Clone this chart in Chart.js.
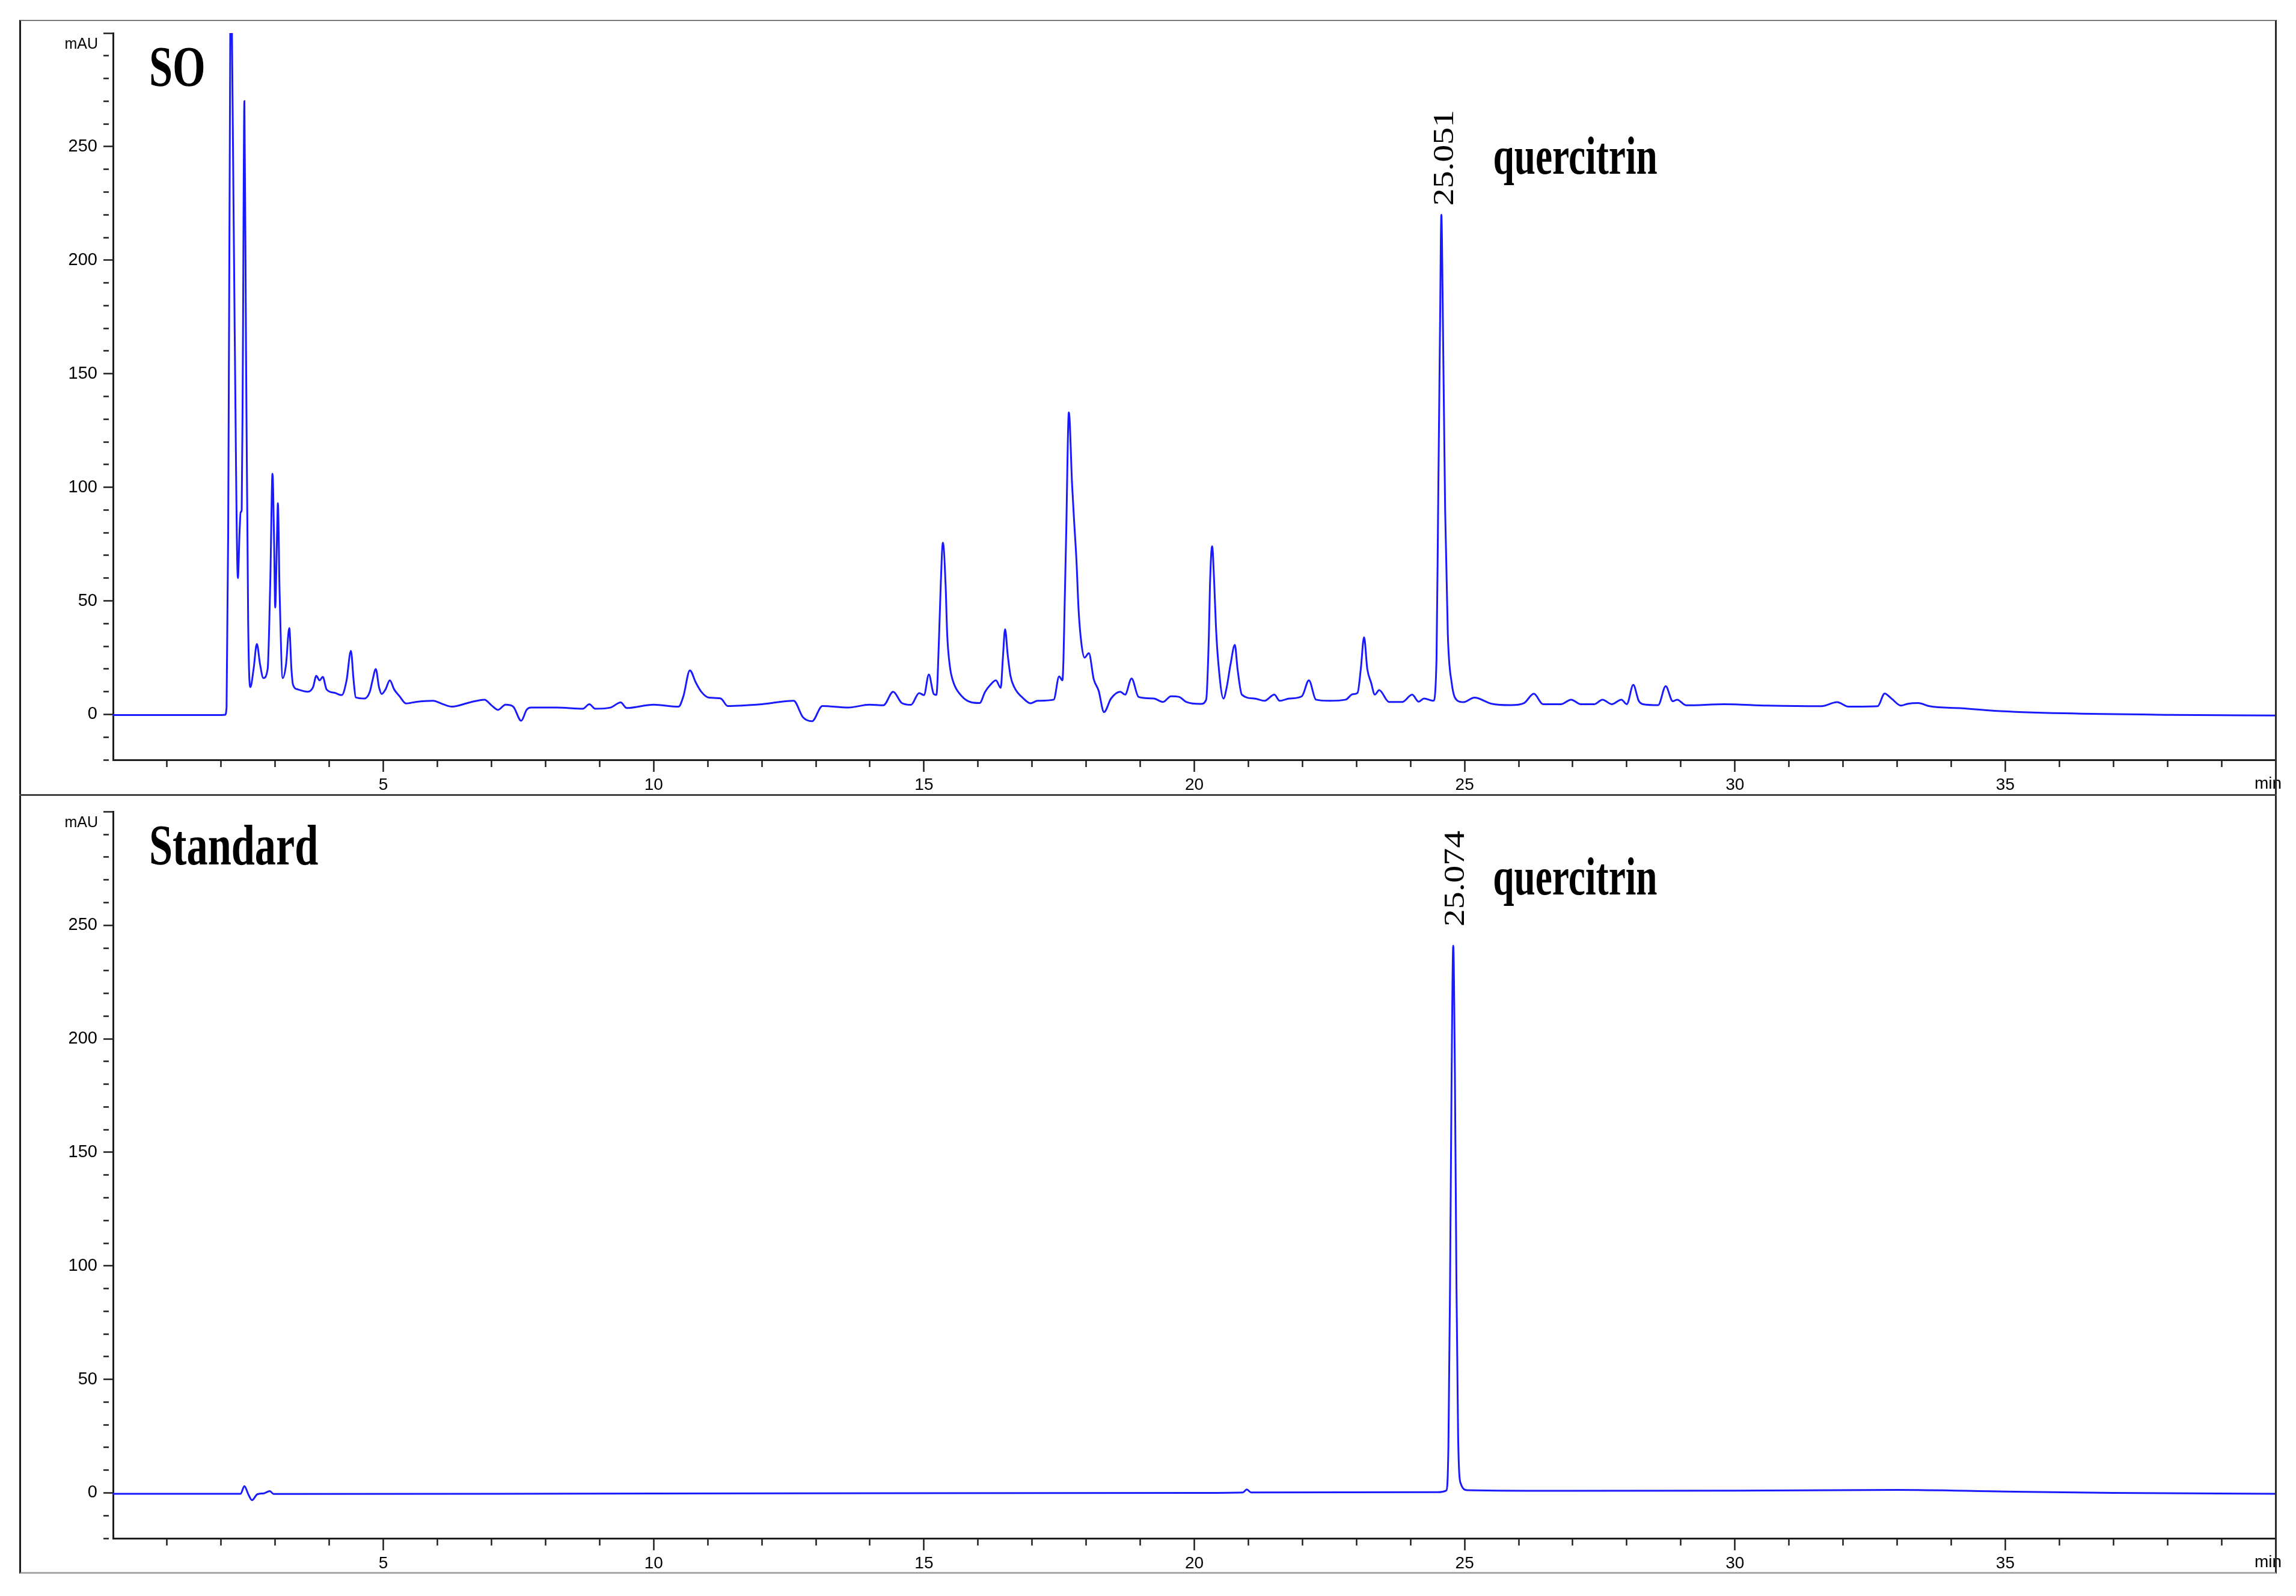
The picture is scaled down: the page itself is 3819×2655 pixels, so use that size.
<!DOCTYPE html>
<html>
<head>
<meta charset="utf-8">
<title>HPLC chromatograms - SO and quercitrin standard</title>
<script src="https://cdn.jsdelivr.net/npm/chart.js@4.4.1/dist/chart.umd.min.js"></script>
<style>
    html, body { margin: 0; padding: 0; background: #fff; }
    #page { position: relative; width: 3819px; height: 2655px; overflow: hidden; background: #fff; }
    #page canvas { position: absolute; left: 0; }
    #soCanvas { top: 0; }
    #stdCanvas { top: 1323px; }
    /* outer box and the line between the two panels */
    .frame {
        position: absolute; left: 32px; top: 33px; width: 3749px; height: 2580px;
        border-left: 3px solid #1a1a1a; border-top: 2px solid #7a7a7a;
        border-right: 3px solid #2a2a2a; border-bottom: 3px solid #a8a8a8;
        pointer-events: none;
    }
    .divider { position: absolute; left: 32px; top: 1321px; width: 3755px; height: 3px; background: #404040; }
</style>
</head>
<body>
<div id="page">
    <canvas id="soCanvas" width="3819" height="1323" style="width:3819px;height:1323px"></canvas>
    <canvas id="stdCanvas" width="3819" height="1294" style="width:3819px;height:1294px"></canvas>
    <div class="frame"></div>
    <div class="divider"></div>
</div>
<script>
// SO extract trace: retention time (min) and absorbance (mAU)
const soTime = [
    0, 1.0, 2.0, 2.07, 2.10, 2.13, 2.16, 2.18, 2.20, 2.25, 2.31, 2.34, 2.36, 2.38, 2.40, 2.43, 2.46, 2.50, 2.54,
    2.60, 2.66, 2.72, 2.78, 2.86, 2.91, 2.95, 2.98, 3.00, 3.03, 3.05, 3.08, 3.14, 3.20, 3.26, 3.30, 3.33, 3.42,
    3.60, 3.70, 3.76, 3.82, 3.88, 3.95, 4.10, 4.23, 4.32, 4.40, 4.45, 4.49, 4.65, 4.75, 4.80, 4.86, 4.92, 4.97,
    5.04, 5.12, 5.20, 5.30, 5.42, 5.60, 5.92, 6.10, 6.27, 6.60, 6.87, 7.00, 7.12, 7.26, 7.40, 7.55, 7.65, 7.73,
    8.20, 8.69, 8.81, 8.92, 9.20, 9.39, 9.50, 10.00, 10.46, 10.55, 10.67, 10.78, 10.88, 11.02, 11.24, 11.37,
    12.00, 12.59, 12.76, 12.93, 13.12, 13.60, 13.99, 14.25, 14.43, 14.59, 14.76, 14.91, 15.00, 15.09, 15.18,
    15.23, 15.28, 15.31, 15.35, 15.40, 15.43, 15.48, 15.52, 15.70, 16.03, 16.13, 16.22, 16.33, 16.42, 16.46,
    16.50, 16.55, 16.60, 16.67, 16.84, 16.97, 17.10, 17.40, 17.50, 17.56, 17.58, 17.60, 17.63, 17.68, 17.74,
    17.78, 17.82, 17.86, 17.91, 17.97, 18.05, 18.14, 18.23, 18.33, 18.46, 18.63, 18.72, 18.84, 18.97, 19.25,
    19.42, 19.57, 19.72, 19.85, 20.12, 20.22, 20.27, 20.29, 20.33, 20.37, 20.40, 20.44, 20.54, 20.60, 20.67,
    20.75, 20.80, 20.88, 21.11, 21.30, 21.48, 21.58, 21.76, 21.99, 22.12, 22.25, 22.50, 22.80, 22.93, 23.02,
    23.08, 23.14, 23.20, 23.27, 23.34, 23.42, 23.60, 23.85, 24.03, 24.15, 24.25, 24.42, 24.48, 24.51, 24.545,
    24.57, 24.60, 24.64, 24.69, 24.76, 24.87, 24.98, 25.18, 25.50, 25.85, 26.10, 26.28, 26.45, 26.78, 26.97,
    27.15, 27.40, 27.55, 27.72, 27.90, 28.00, 28.12, 28.22, 28.30, 28.58, 28.72, 28.85, 28.93, 29.10, 29.80,
    30.60, 31.60, 31.89, 32.10, 32.64, 32.77, 32.90, 33.07, 33.20, 33.39, 33.60, 34.20, 34.80, 36.08, 38.10, 40
];
const soSignal = [
    -0.3, -0.3, -0.3, -0.2, 3, 80, 250, 340, 300, 170, 60, 80, 89, 90, 150, 270, 160, 40, 12,
    20, 31, 22, 16, 20, 60, 106, 75, 47, 75, 93, 55, 16, 22, 38, 20, 13, 11,
    10, 12, 17, 15, 16.5, 11, 9.5, 8.5, 15, 28, 15, 7.5, 7, 10, 15, 20, 12, 9,
    11, 15, 11, 8, 4.8, 5.5, 6, 4.5, 3.4, 5.3, 6.5, 4, 2, 4.3, 3.5, -2.8, 2, 3,
    3, 2.5, 4.5, 2.5, 3, 5.3, 2.8, 4.3, 3.4, 8, 19.4, 14, 10, 7.4, 7, 3.7,
    4.5, 6, -1.2, -3, 3.7, 3, 4.3, 4, 10, 5, 4.2, 9.4, 8.5, 17.6, 9,
    8.6, 35, 57, 75.6, 57, 35, 21, 16, 8, 5, 9.9, 12.8, 15, 11.7, 25,
    37.5, 26, 17, 12, 7, 4.9, 6, 6.5, 16.7, 15, 24, 46, 79, 133, 101,
    84, 68, 46, 31.6, 25, 27, 15.5, 10.5, 1, 7, 10, 8.7, 15.8, 7.7, 7,
    5.5, 8, 7.7, 5.5, 4.6, 6.5, 35, 57, 74, 57, 39, 24, 7, 12, 22,
    30.6, 20, 8.7, 7, 6, 8.7, 6, 7, 8, 15, 6.5, 6, 6.5, 8.9, 9.5,
    20, 34, 20, 14, 8.7, 10.7, 5.5, 5.5, 8.7, 5.6, 7, 6, 24, 90, 170,
    220, 170, 90, 35, 14, 6, 5.4, 7.4, 4.7, 4.1, 5, 9.1, 4.5, 4.5, 6.5,
    4.5, 4.5, 6.5, 4.5, 6.5, 4.5, 13, 6, 4.5, 4.1, 12.4, 5.8, 6.5, 4, 4.5,
    3.9, 3.6, 5.4, 3.4, 3.6, 9.2, 6.9, 3.9, 4.7, 5, 3.6, 2.7, 1.6, 0.5, -0.2, -0.5
];

// quercitrin standard trace
const stdTime = [
    0, 2.36, 2.43, 2.50, 2.57, 2.67, 2.79, 2.90, 2.97, 10, 20, 20.90, 20.97, 21.05, 24.50, 24.66, 24.70,
    24.73, 24.76, 24.79, 24.82, 24.85, 24.88, 24.93, 25.05, 27, 30, 33, 35, 37, 40
];
const stdSignal = [
    -0.4, -0.4, 3, -0.5, -3.2, -0.6, -0.2, 0.8, -0.5, -0.3, 0, 0.2, 1.5, 0.2, 0.3, 1, 20,
    90, 185, 241, 185, 90, 25, 4, 1.2, 0.9, 1, 1.3, 0.6, 0, -0.4
];

// labelled ticks
const xLabelValues = [5, 10, 15, 20, 25, 30, 35];
const yLabelValues = [0, 50, 100, 150, 200, 250];

const traceColor = '#1a1aff';
const axisColor = '#1e1e1e';
const sansFont = "'Liberation Sans Narrow', 'Liberation Sans', Arial, sans-serif";
const serifFont = "'Liberation Serif', 'Times New Roman', serif";

// text drawn narrower than the font, like the squeezed figure
function drawSqueezed(ctx, text, x, y, font, sx) {
    ctx.save();
    ctx.translate(x, y);
    ctx.scale(sx, 1);
    ctx.font = font;
    ctx.textAlign = 'left';
    ctx.textBaseline = 'alphabetic';
    ctx.fillText(text, 0, 0);
    ctx.restore();
}

// axis units, panel name, compound name and the retention time on the peak
const panelText = {
    id: 'panelText',
    afterDraw(chart, args, opts) {
        const ctx = chart.ctx;
        const area = chart.chartArea;
        const xs = chart.scales.x;
        const ys = chart.scales.y;
        ctx.save();
        ctx.fillStyle = '#000';

        ctx.font = '25px ' + sansFont;
        ctx.textAlign = 'right';
        ctx.textBaseline = 'middle';
        ctx.fillText('mAU', area.left - 25, area.top + 19);
        ctx.font = '28px ' + sansFont;
        ctx.textAlign = 'left';
        ctx.fillText('min', area.right - 35, area.bottom + 40);

        drawSqueezed(ctx, opts.name, area.left + 60, area.top + 88, 'bold 95px ' + serifFont, 0.74);

        // peak apex comes from the dataset itself
        const pts = chart.data.datasets[0].data;
        const apex = pts.find(p => p.x === opts.peakTime);
        const px = xs.getPixelForValue(apex.x);
        const py = ys.getPixelForValue(apex.y);

        drawSqueezed(ctx, opts.compound, px + opts.nameDx, py + opts.nameDy, 'bold 88px ' + serifFont, 0.72);

        ctx.save();
        ctx.translate(px + opts.rtDx, py - opts.rtGap);
        ctx.rotate(-Math.PI / 2);
        ctx.scale(1, 0.84);
        ctx.font = '58px ' + serifFont;
        ctx.textAlign = 'left';
        ctx.textBaseline = 'alphabetic';
        ctx.fillText(opts.rtLabel, 0, 0);
        ctx.restore();

        ctx.restore();
    }
};

function makeChart(canvasId, time, signal, padTop, axisHeight, textOpts) {
    const points = time.map((t, i) => ({ x: t, y: signal[i] }));
    return new Chart(document.getElementById(canvasId), {
        type: 'line',
        data: {
            datasets: [{
                data: points,
                borderColor: traceColor,
                borderWidth: 3,
                pointRadius: 0,
                fill: false,
                cubicInterpolationMode: 'monotone'
            }]
        },
        options: {
            responsive: false,
            animation: false,
            devicePixelRatio: 1,
            layout: { padding: { top: padTop, right: 34, bottom: 0, left: 0 } },
            plugins: {
                legend: { display: false },
                tooltip: { enabled: false },
                panelText: textOpts
            },
            scales: {
                x: {
                    type: 'linear',
                    min: 0,
                    max: 40,
                    afterFit: s => { s.height = axisHeight; },
                    border: { display: true, color: axisColor, width: 3 },
                    grid: {
                        drawOnChartArea: false,
                        drawTicks: true,
                        tickLength: 20,
                        tickWidth: 2.5,
                        tickColor: c => (c.tick && (c.tick.value === 0 || c.tick.value === 40)) ? 'rgba(0,0,0,0)' : axisColor,
                        tickBorderDash: c => (c.tick && c.tick.value % 5 !== 0) ? [10, 60] : []
                    },
                    ticks: {
                        stepSize: 1,
                        autoSkip: false,
                        maxRotation: 0,
                        minRotation: 0,
                        padding: 5,
                        color: '#000',
                        font: { family: sansFont, size: 28 },
                        callback: v => xLabelValues.includes(v) ? String(v) : ''
                    }
                },
                y: {
                    min: -20,
                    max: 300,
                    afterFit: s => { s.width = 188; },
                    border: { display: true, color: axisColor, width: 3 },
                    grid: {
                        drawOnChartArea: false,
                        drawTicks: true,
                        tickLength: 16,
                        tickWidth: 2.5,
                        tickColor: axisColor,
                        tickBorderDash: c => (c.tick && c.tick.value % 50 !== 0) ? [9, 60] : []
                    },
                    ticks: {
                        stepSize: 10,
                        autoSkip: false,
                        padding: 10,
                        color: '#000',
                        font: { family: sansFont, size: 29 },
                        callback: v => yLabelValues.includes(v) ? String(v) : ''
                    }
                }
            }
        },
        plugins: [panelText]
    });
}

makeChart('soCanvas', soTime, soSignal, 55, 59, {
    name: 'SO', compound: 'quercitrin', rtLabel: '25.051', peakTime: 24.57,
    nameDx: 86, nameDy: -68, rtDx: 20, rtGap: 15
});
makeChart('stdCanvas', stdTime, stdSignal, 19, 58, {
    name: 'Standard', compound: 'quercitrin', rtLabel: '25.074', peakTime: 24.79,
    nameDx: 66, nameDy: -85, rtDx: 18, rtGap: 32
});
</script>
</body>
</html>
